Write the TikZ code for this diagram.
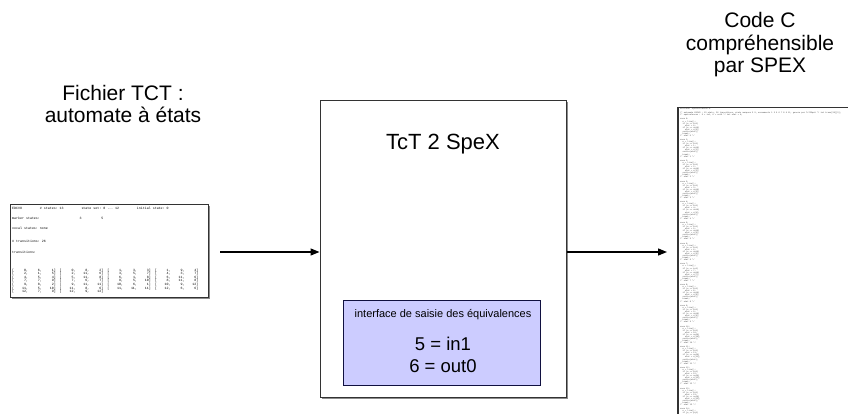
\documentclass[tikz,border=0pt]{standalone}
\usepackage{fontspec}
\setmainfont{Liberation Sans}
\setmonofont{Liberation Mono}
\usetikzlibrary{arrows.meta, positioning, calc, shadows}
\definecolor{SaisieBlue}{RGB}{204, 204, 255}
\definecolor{SaisieNavy}{RGB}{16, 16, 64}

\begin{document}
\begin{tikzpicture}[x=1pt, y=-1pt,
  bigtext/.style={font=\fontsize{21}{22.5}\selectfont, align=center, inner sep=0pt},
  flow/.style={-{Triangle[length=9pt, width=7pt]}, line width=1.3pt},
  boxframe/.style={draw=black!80, line width=1pt, fill=white, inner sep=0pt,
    drop shadow={shadow xshift=1.5pt, shadow yshift=-1.5pt, fill=black!45, opacity=1}},
  tcttext/.style={font=\fontsize{3.3}{3.6}\ttfamily, anchor=base west, inner sep=0pt},
  codetext/.style={font=\fontsize{2}{2}\ttfamily, anchor=base west, inner sep=0pt, black!75}]
\useasboundingbox (0,0) rectangle (848,414);

% labels (base = derniere ligne)
\node[bigtext, anchor=base] (tctlabel) at (123,123) {Fichier TCT :\\automate à états};
\node[bigtext, anchor=base] (ccodelabel) at (760,73) {Code C\\compréhensible\\par SPEX};

% fichier TCT
\node[boxframe, minimum width=198pt, minimum height=93pt, anchor=north west] (tctfile) at (10,204) {};
\node[tcttext] (tct0) at (12,209) {EDCV8~~~~~~~~~\#~states:~13~~~~~~~~~state~set:~0~...~12~~~~~~~~~initial~state:~0};
\node[tcttext] (tct1) at (12,219) {marker~states:~~~~~~~~~~~~~~~~~~~~3~~~~~~~~~~5};
\node[tcttext] (tct2) at (12,229) {vocal~states:~none};
\node[tcttext] (tct3) at (12,242) {\#~transitions:~26};
\node[tcttext] (tct4) at (12,253) {transitions:};
\node[tcttext] (tct5) at (12,271) {[~~~~~0,~~~~~6,~~~~~1]~~[~~~~~0,~~~~~8,~~~~~2]~~[~~~~~1,~~~~~3,~~~~~3]~~[~~~~~1,~~~~~9,~~~~~4]};
\node[tcttext] (tct6) at (12,274.6) {[~~~~~2,~~~~~1,~~~~~5]~~[~~~~~2,~~~~11,~~~~~6]~~[~~~~~3,~~~~~5,~~~~~7]~~[~~~~~4,~~~~~3,~~~~~7]};
\node[tcttext] (tct7) at (12,278.2) {[~~~~~4,~~~~~5,~~~~~4]~~[~~~~~5,~~~~11,~~~~~8]~~[~~~~~6,~~~~~1,~~~~~8]~~[~~~~~6,~~~~11,~~~~~6]};
\node[tcttext] (tct8) at (12,281.8) {[~~~~~7,~~~~~7,~~~~~9]~~[~~~~~7,~~~~~6,~~~~~7]~~[~~~~~8,~~~~~5,~~~~10]~~[~~~~~8,~~~~11,~~~~~8]};
\node[tcttext] (tct9) at (12,285.4) {[~~~~~9,~~~~~8,~~~~~2]~~[~~~~~9,~~~~11,~~~~11]~~[~~~~10,~~~~~6,~~~~~1]~~[~~~~10,~~~~~9,~~~~12]};
\node[tcttext] (tct10) at (12,289) {[~~~~11,~~~~~5,~~~~10]~~[~~~~11,~~~~~8,~~~~~6]~~[~~~~11,~~~~11,~~~~11]~~[~~~~12,~~~~~6,~~~~~6]};
\node[tcttext] (tct11) at (12,292.6) {[~~~~12,~~~~~7,~~~~~9]~~[~~~~12,~~~~~9,~~~~12]};

% convertisseur
\node[boxframe, minimum width=246.5pt, minimum height=297pt, anchor=north west] (tct2spex) at (319.5,100) {};
\node[font=\fontsize{22}{24}\selectfont, anchor=base, inner sep=0pt] (titre) at (443,150) {TcT 2 SpeX};
\node[draw=SaisieNavy, fill=SaisieBlue, line width=1pt, minimum width=197pt, minimum height=85pt, anchor=north west] (saisie) at (343,300) {};
\node[font=\fontsize{11}{13}\selectfont, anchor=base, inner sep=0pt] (saisietitre) at (443,317) {interface de saisie des équivalences};
\node[font=\fontsize{18.5}{22}\selectfont, align=center, anchor=base, inner sep=0pt] (equiv) at (443,372) {5 = in1\\6 = out0};

% code C
\node[boxframe, line width=1.5pt, minimum width=200pt, minimum height=340pt, anchor=north west] (ccode) at (677,107) {};
\node[codetext] (c0) at (680,110) {\#include "specification.h"};
\node[codetext] (c1) at (680,113.3) {/* automate EDCV8 : 13 etats, 26 transitions, etats marques 3 5, evenements 1 3 5 6 7 8 9 11, genere par TcT2SpeX */ int trans[26][3];};
\node[codetext] (c2) at (680,116) {/* equivalences : 5 = in1, 6 = out0 */ int etat = 0;};
\foreach \g in {0,...,14}
  \foreach \l in {0,...,8}
    \node[codetext] (c\g-\l) at (680,{120+\g*20.7+\l*2.05}) {\ifcase\l case \g:\or\ \ e = lire();\or\ \ if (e == in1)\or\ \ \ \ etat = \g;\or\ \ if (e == out0)\or\ \ \ \ etat = s[\g];\or\ \ sortie(etat);\or\ \ break;\or /* etat \g\ */\fi};

% fleches
\coordinate (src) at (220,252);
\coordinate (dst) at (667,252);
\draw[flow] (src) -- (src -| tct2spex.west);
\draw[flow] (tct2spex.east |- dst) -- (dst);
\end{tikzpicture}
\end{document}
